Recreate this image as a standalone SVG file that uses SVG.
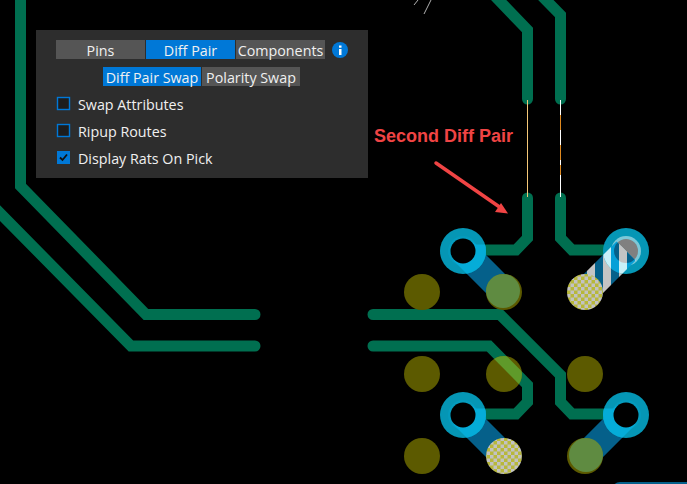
<svg xmlns="http://www.w3.org/2000/svg" width="687" height="484" viewBox="0 0 687 484">
<style>
text{font-family:"Open Sans","Noto Sans","Liberation Sans",sans-serif;font-size:14.300px;fill:#f0f0f0}
.mid{text-anchor:middle}
.tr{fill:none;stroke:#006f50;stroke-width:11;stroke-linecap:round;stroke-linejoin:miter}
.btn{fill:#555555}.on{fill:#0078d7}
.cb{fill:#1d1d1d;stroke:#0078d7;stroke-width:1.400}
.via{fill:#5c5a00}
.ring{fill:#0596b5}.ring2{fill:#059cbe}
.stub{stroke:#05608a;stroke-width:27;fill:none}
.glow{stroke:#05acd8;fill:none}
.hole{fill:#000}
</style>
<defs>
<pattern id="chk" width="7" height="7" patternUnits="userSpaceOnUse"><rect width="7" height="7" fill="#b8b83a"/><rect width="3.500" height="3.500" fill="#c2c2c2"/><rect x="3.500" y="3.500" width="3.500" height="3.500" fill="#c2c2c2"/></pattern>
<pattern id="strp" x="587" width="16" height="16" patternUnits="userSpaceOnUse"><rect width="16" height="16" fill="#05608a"/><rect width="8" height="16" fill="#c4c4c4"/></pattern>
<pattern id="strpPad" x="587" width="16" height="16" patternUnits="userSpaceOnUse"><rect width="16" height="16" fill="#05a0d8"/><rect width="8" height="16" fill="#c8f0f8"/></pattern>
<clipPath id="v504"><circle cx="504" cy="374" r="18"/></clipPath>
<clipPath id="p1"><circle cx="463" cy="251" r="23"/></clipPath>
<clipPath id="p2"><circle cx="626" cy="251" r="23"/></clipPath>
<clipPath id="p3"><circle cx="463" cy="415" r="23"/></clipPath>
<clipPath id="p4"><circle cx="626" cy="415" r="23"/></clipPath>
<clipPath id="h2"><circle cx="626" cy="251" r="12"/></clipPath>
</defs>
<rect width="687" height="484" fill="#000"/>
<g id="connectors">
<path class="tr" d="M20.500 -8V186L146 314.500H255"/>
<path class="tr" d="M-8 205L131 346H255"/>
<path class="tr" d="M491 -8L527.500 30V99"/>
<path class="tr" d="M538 -8L560.500 15V99"/>
<path class="tr" d="M527.500 198V238L516 250H485"/>
<path class="tr" d="M560.500 198V238L572 250H610"/>
<path class="tr" d="M373 314.500H500L560.500 375V402L572 414H610"/>
<path class="tr" d="M373 346H489L527.500 385V402L516 414H485"/>
<path d="M527.500 100V197" stroke="#f5c878" stroke-width="1" fill="none"/>
<path d="M560.500 100V197" stroke="#ffffff" stroke-width="1" fill="none"/>
<path d="M560.500 115V130M560.500 145V160M560.500 165V175" stroke="#e08a20" stroke-width="1" fill="none"/>
<path d="M431 0L424 14M418 0L414 5" stroke="#b0b0b0" stroke-width="1" fill="none"/>
</g>
<g id="vias">
<circle class="via" cx="422" cy="292" r="18"/>
<circle class="via" cx="422" cy="374" r="18"/>
<circle class="via" cx="422" cy="456" r="18"/>
<circle class="via" cx="504" cy="374" r="18"/>
<circle class="via" cx="585" cy="374" r="18"/>
<path d="M489 346L527.500 385" stroke="#5f9a2a" stroke-width="11" clip-path="url(#v504)"/>
</g>
<g id="pad-top-left">
<path class="stub" d="M463 251L504 292"/>
<circle class="ring" cx="463" cy="251" r="23"/><circle class="ring2" cx="463" cy="251" r="15"/>
<g clip-path="url(#p1)"><path class="glow" stroke-width="27" d="M463 251L504 292"/><path class="glow" stroke-width="11" d="M463 250H490"/></g>
<circle class="hole" cx="463" cy="251" r="12.500"/>
<circle class="via" cx="504" cy="292" r="18"/><circle cx="503" cy="291" r="17" fill="#5f8b41"/>
</g>
<g id="pad-top-right">
<path d="M626 251L585 292" stroke="url(#strp)" stroke-width="27" fill="none"/>
<circle class="ring" cx="626" cy="251" r="23"/><circle cx="626" cy="251" r="15" fill="#7cc8d8"/><circle cx="626" cy="251" r="12" fill="#808080"/>
<g clip-path="url(#p2)"><path d="M626 251L585 292" stroke="url(#strpPad)" stroke-width="27" fill="none"/></g>
<g clip-path="url(#h2)"><path d="M626 251L585 292" stroke="url(#strp)" stroke-width="27" fill="none"/></g>
<circle cx="585" cy="292" r="18" fill="url(#chk)"/>
</g>
<g id="pad-bottom-left">
<path class="stub" d="M463 415L504 456"/>
<circle class="ring" cx="463" cy="415" r="23"/><circle class="ring2" cx="463" cy="415" r="15"/>
<g clip-path="url(#p3)"><path class="glow" stroke-width="27" d="M463 415L504 456"/><path class="glow" stroke-width="11" d="M463 414H490"/></g>
<circle class="hole" cx="463" cy="415" r="12.500"/>
<circle cx="504" cy="456" r="18" fill="url(#chk)"/>
</g>
<g id="pad-bottom-right">
<path class="stub" d="M626 415L585 456"/>
<circle class="ring" cx="626" cy="415" r="23"/><circle class="ring2" cx="626" cy="415" r="15"/>
<g clip-path="url(#p4)"><path class="glow" stroke-width="27" d="M626 415L585 456"/><path class="glow" stroke-width="11" d="M626 414H600"/></g>
<circle class="hole" cx="626" cy="415" r="12.500"/>
<circle class="via" cx="585" cy="456" r="18"/><circle cx="586" cy="455" r="17" fill="#5f8b41"/>
</g>
<rect x="612" y="482" width="90" height="16" rx="8" fill="#05608a"/>
<g id="panel">
<rect x="36" y="30" width="332" height="148" fill="#2d2d2d"/>
<rect class="btn" x="56" y="40" width="89" height="19"/><text class="mid" x="100.500" y="55.500">Pins</text>
<rect class="on" x="146" y="40" width="89" height="19"/><text class="mid" x="190.500" y="55.500">Diff Pair</text>
<rect class="btn" x="236" y="40" width="89" height="19"/><text class="mid" x="280.500" y="55.500">Components</text>
<circle cx="340" cy="50" r="8" fill="#0078d7"/><rect x="339" y="49" width="2.500" height="6" fill="#fff"/><rect x="339" y="45.500" width="2.500" height="2.200" fill="#fff"/>
<rect class="on" x="103" y="67" width="98" height="19"/><text class="mid" x="152" y="82.500">Diff Pair Swap</text>
<rect class="btn" x="202" y="67" width="98" height="19"/><text class="mid" x="251" y="82.500">Polarity Swap</text>
<rect class="cb" x="57.500" y="97.500" width="12" height="12"/><text x="78" y="110">Swap Attributes</text>
<rect class="cb" x="57.500" y="124.500" width="12" height="12"/><text x="78" y="137">Ripup Routes</text>
<rect x="57" y="151" width="13" height="13" fill="#0078d7"/><path d="M60 157.500L62.500 160L67 154.500" fill="none" stroke="#111" stroke-width="1.800"/><text x="78" y="164">Display Rats On Pick</text>
</g>
<g id="annotation">
<text x="374" y="142" style="font-family:'Liberation Sans',Arial,sans-serif;font-weight:700;font-size:18px;fill:#f04444">Second Diff Pair</text>
<path d="M436 163L501 208" stroke="#f04444" stroke-width="3.500" stroke-linecap="round" fill="none"/>
<path d="M508 213.500L495 212L501 203Z" fill="#f04444"/>
</g>
</svg>
